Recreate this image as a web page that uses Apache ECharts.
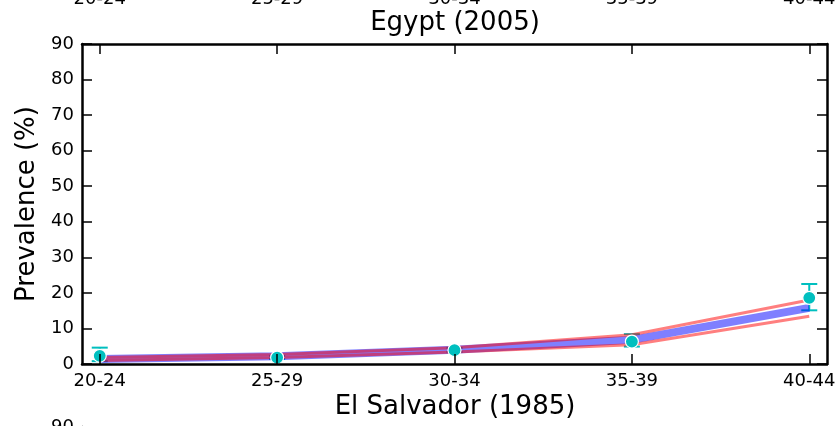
<!DOCTYPE html>
<html>
<head>
<meta charset="utf-8">
<script src="https://cdn.jsdelivr.net/npm/echarts@6/dist/echarts.min.js"></script>
<style>html,body{margin:0;padding:0;background:#fff}#c{width:839px;height:426px}</style>
</head>
<body>
<div id="c"></div>
<script>
const categories = ['20-24', '25-29', '30-34', '35-39', '40-44'];
const observed = [2.3, 1.8, 3.9, 6.3, 18.6];
const errLow = [0.8, 1.4, 3.4, 4.9, 15.1];
const errHigh = [4.6, 2.3, 4.5, 8.4, 22.5];
const modelMean = [1.4, 2.2, 4.0, 6.8, 15.8];
const modelUpper = [1.8, 2.7, 4.6, 8.2, 18.0];
const modelLower = [1.0, 1.8, 3.4, 5.4, 13.4];
const yTicks = [0, 10, 20, 30, 40, 50, 60, 70, 80, 90];
const titleMain = 'Egypt (2005)';
const titleNext = 'El Salvador (1985)';
const yName = 'Prevalence (%)';

const FONT = 'DejaVu Sans';
const idx = categories.map((_, i) => i);
const pairs = arr => arr.map((v, i) => [i, v]);

const chart = echarts.init(document.getElementById('c'));
const black = '#000';
const tickFont = {fontFamily: FONT, fontSize: 18, color: black};

const xBase = {type: 'value', min: -0.1, max: 4.1};
const yBase = {type: 'value', min: 0, max: 90, interval: 10, splitLine: {show: false}};
const spine = {show: true, onZero: false, lineStyle: {color: black, width: 2.5}};
const tick = {show: true, inside: true, length: 10, lineStyle: {color: black, width: 1.5}};

chart.setOption({
  animation: false,
  title: [
    {text: titleMain, left: 455, top: 10, textAlign: 'center', padding: 0,
     textStyle: {fontFamily: FONT, fontSize: 26, fontWeight: 'normal', color: black}},
    {text: titleNext, left: 455, top: 394, textAlign: 'center', padding: 0,
     textStyle: {fontFamily: FONT, fontSize: 26, fontWeight: 'normal', color: black}}
  ],
  grid: [
    {left: 82, width: 745, top: -338, height: 320, outerBoundsMode: 'none', containLabel: false},
    {left: 82, width: 745, top: 44, height: 320, outerBoundsMode: 'none', containLabel: false},
    {left: 82, width: 745, top: 427, height: 320, outerBoundsMode: 'none', containLabel: false}
  ],
  xAxis: [
    Object.assign({}, xBase, {gridIndex: 0, position: 'bottom',
      axisLine: {show: false, onZero: false}, axisTick: {show: false}, splitLine: {show: false},
      axisLabel: Object.assign({customValues: idx, margin: 8, formatter: v => categories[Math.round(v)]}, tickFont)}),
    Object.assign({}, xBase, {gridIndex: 1, position: 'bottom', z: 10,
      axisLine: spine,
      axisTick: Object.assign({customValues: idx}, tick),
      splitLine: {show: false},
      axisLabel: Object.assign({customValues: idx, margin: 8, formatter: v => categories[Math.round(v)]}, tickFont)}),
    Object.assign({}, xBase, {gridIndex: 1, position: 'top', z: 10,
      axisLine: spine,
      axisTick: Object.assign({customValues: idx}, tick),
      splitLine: {show: false}, axisLabel: {show: false}}),
    Object.assign({}, xBase, {gridIndex: 2, show: false, axisLine: {onZero: false}})
  ],
  yAxis: [
    Object.assign({}, yBase, {gridIndex: 0, show: false, axisLine: {onZero: false}}),
    Object.assign({}, yBase, {gridIndex: 1, position: 'left', z: 10,
      name: yName, nameLocation: 'middle', nameGap: 28,
      nameTextStyle: {fontFamily: FONT, fontSize: 26, color: black},
      axisLine: spine, axisTick: tick,
      axisLabel: Object.assign({margin: 8}, tickFont)}),
    Object.assign({}, yBase, {gridIndex: 1, position: 'right', z: 10,
      axisLine: spine, axisTick: tick, axisLabel: {show: false}}),
    Object.assign({}, yBase, {gridIndex: 2, position: 'left',
      axisLine: spine, axisTick: tick,
      axisLabel: Object.assign({margin: 8}, tickFont)})
  ],
  series: [
    {
      type: 'custom', xAxisIndex: 1, yAxisIndex: 1, z: 1,
      data: idx.map(i => [i, errLow[i], errHigh[i]]),
      renderItem: (params, api) => {
        const x = api.value(0);
        const lo = api.coord([x, api.value(1)]);
        const hi = api.coord([x, api.value(2)]);
        const w = 8;
        const st = {stroke: '#00bfbf', lineWidth: 2};
        return {type: 'group', children: [
          {type: 'line', shape: {x1: lo[0], y1: lo[1], x2: hi[0], y2: hi[1]}, style: st},
          {type: 'line', shape: {x1: lo[0] - w, y1: lo[1], x2: lo[0] + w, y2: lo[1]}, style: st},
          {type: 'line', shape: {x1: hi[0] - w, y1: hi[1], x2: hi[0] + w, y2: hi[1]}, style: st}
        ]};
      }
    },
    {
      type: 'line', xAxisIndex: 1, yAxisIndex: 1, z: 2, data: pairs(modelMean),
      symbol: 'none', lineStyle: {color: 'rgba(0,0,255,0.5)', width: 8, cap: 'butt'}
    },
    {
      type: 'line', xAxisIndex: 1, yAxisIndex: 1, z: 3, data: pairs(modelUpper),
      symbol: 'none', lineStyle: {color: 'rgba(255,0,0,0.5)', width: 3}
    },
    {
      type: 'line', xAxisIndex: 1, yAxisIndex: 1, z: 3, data: pairs(modelLower),
      symbol: 'none', lineStyle: {color: 'rgba(255,0,0,0.5)', width: 3}
    },
    {
      type: 'scatter', xAxisIndex: 1, yAxisIndex: 1, z: 4, data: pairs(observed),
      symbol: 'circle', symbolSize: 13,
      itemStyle: {color: '#00bfbf', borderColor: '#fff', borderWidth: 1.2, opacity: 1}
    }
  ]
});
</script>
</body>
</html>
